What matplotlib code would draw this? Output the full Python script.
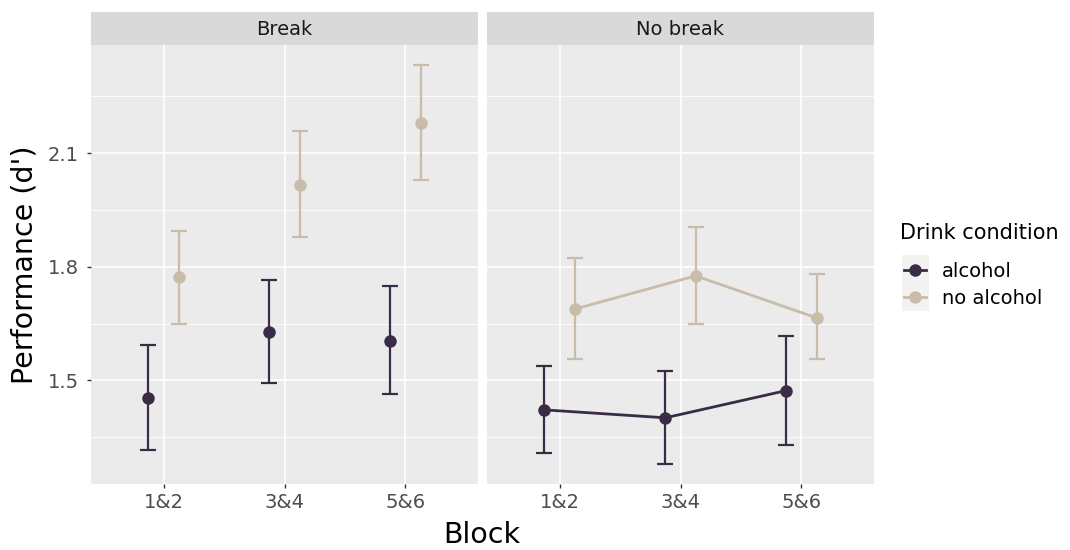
import matplotlib
matplotlib.use("Agg")
import matplotlib.pyplot as plt
from matplotlib.lines import Line2D
from matplotlib.patches import Rectangle
import numpy as np

plt.rcParams['font.family'] = ['DejaVu Sans']

blocks = ['1&2', '3&4', '5&6']
panels = ['Break', 'No break']
conditions = ['alcohol', 'no alcohol']
colors = {'alcohol': '#3b2c45', 'no alcohol': '#c9bca9'}

# Break panel
break_alc_mean = [1.453, 1.627, 1.605]
break_alc_lo = [1.315, 1.493, 1.465]
break_alc_hi = [1.592, 1.766, 1.749]
break_noalc_mean = [1.773, 2.017, 2.179]
break_noalc_lo = [1.650, 1.879, 2.029]
break_noalc_hi = [1.895, 2.159, 2.333]

# No break panel
nobreak_alc_mean = [1.422, 1.401, 1.473]
nobreak_alc_lo = [1.308, 1.280, 1.330]
nobreak_alc_hi = [1.537, 1.524, 1.617]
nobreak_noalc_mean = [1.688, 1.776, 1.665]
nobreak_noalc_lo = [1.555, 1.650, 1.555]
nobreak_noalc_hi = [1.822, 1.905, 1.782]

data = {
    'Break': {
        'alcohol': (break_alc_mean, break_alc_lo, break_alc_hi),
        'no alcohol': (break_noalc_mean, break_noalc_lo, break_noalc_hi),
    },
    'No break': {
        'alcohol': (nobreak_alc_mean, nobreak_alc_lo, nobreak_alc_hi),
        'no alcohol': (nobreak_noalc_mean, nobreak_noalc_lo, nobreak_noalc_hi),
    },
}
draw_lines = {'Break': False, 'No break': True}

W, H = 1070, 550
fig = plt.figure(figsize=(W / 100, H / 100), dpi=100)

def px_axes(x0, y0, x1, y1):
    return fig.add_axes([x0 / W, 1 - y1 / H, (x1 - x0) / W, (y1 - y0) / H])

panel_top, panel_bot = 45, 483.5
strip_top = 12
panel_x = [(91, 478), (487, 874)]

ymin, ymax = 1.2275, 2.3856
yticks = [1.5, 1.8, 2.1]
yminor = [1.35, 1.65, 1.95, 2.25]
x = np.arange(len(blocks))
dodge = 0.125
offsets = {'alcohol': -dodge, 'no alcohol': dodge}
tick_color = '#4d4d4d'

for i, pname in enumerate(panels):
    x0, x1 = panel_x[i]
    ax = px_axes(x0, panel_top, x1, panel_bot)
    ax.set_facecolor('#ebebeb')
    for s in ax.spines.values():
        s.set_visible(False)
    ax.set_xlim(-0.6, len(blocks) - 0.4)
    ax.set_ylim(ymin, ymax)
    for yv in yminor:
        ax.axhline(yv, color='white', lw=0.6, zorder=0)
    for yv in yticks:
        ax.axhline(yv, color='white', lw=1.2, zorder=0)
    for xv in x:
        ax.axvline(xv, color='white', lw=1.2, zorder=0)
    ax.set_xticks(x)
    ax.set_xticklabels(blocks, fontsize=14, color=tick_color)
    ax.tick_params(axis='x', length=3, width=1, color='#333333', pad=3.5)
    if i == 0:
        ax.set_yticks(yticks)
        ax.set_yticklabels(['1.5', '1.8', '2.1'], fontsize=14, color=tick_color)
        ax.tick_params(axis='y', length=3, width=1, color='#333333', pad=6)
    else:
        ax.set_yticks([])
    for cond in conditions:
        m, lo, hi = data[pname][cond]
        m = np.array(m); lo = np.array(lo); hi = np.array(hi)
        xs = x + offsets[cond]
        ax.errorbar(xs, m, yerr=[m - lo, hi - m], fmt='none', ecolor=colors[cond],
                    elinewidth=1.6, capsize=5.5, capthick=1.6, zorder=3)
        if draw_lines[pname]:
            ax.plot(xs, m, color=colors[cond], lw=2, zorder=3)
        ax.plot(xs, m, 'o', color=colors[cond], ms=9, zorder=4, mec='none')

    # strip
    sax = px_axes(x0, strip_top, x1, panel_top)
    sax.set_facecolor('#d9d9d9')
    sax.set_xticks([]); sax.set_yticks([])
    for s in sax.spines.values():
        s.set_visible(False)
    sax.text(0.5, 0.47, pname, ha='center', va='center', fontsize=14, color='#1a1a1a',
             transform=sax.transAxes)

fig.text(25 / W, 1 - 265 / H, "Performance (d')", rotation=90, ha='center', va='center',
         fontsize=20.5, color='black')
fig.text(482 / W, 1 - 535 / H, 'Block', ha='center', va='center', fontsize=20.5, color='black')

# legend title
fig.text(900 / W, 1 - 233 / H, 'Drink condition', ha='left', va='center', fontsize=15, color='black')

# legend key backgrounds
fig.patches.append(Rectangle((902 / W, 1 - 311 / H), 27 / W, 56 / H, transform=fig.transFigure,
                             facecolor='#f2f2f2', edgecolor='none', zorder=0))

handles = [Line2D([0], [0], color=colors[c], marker='o', ms=9, lw=2, mec='none') for c in conditions]
leg = fig.legend(handles, conditions, loc='upper left', bbox_to_anchor=(904 / W, 1 - 262 / H),
                 frameon=False, fontsize=14,
                 handlelength=1.15, handletextpad=0.78, labelspacing=0.39,
                 borderaxespad=0, borderpad=0)

fig.savefig('out.png', dpi=100)
